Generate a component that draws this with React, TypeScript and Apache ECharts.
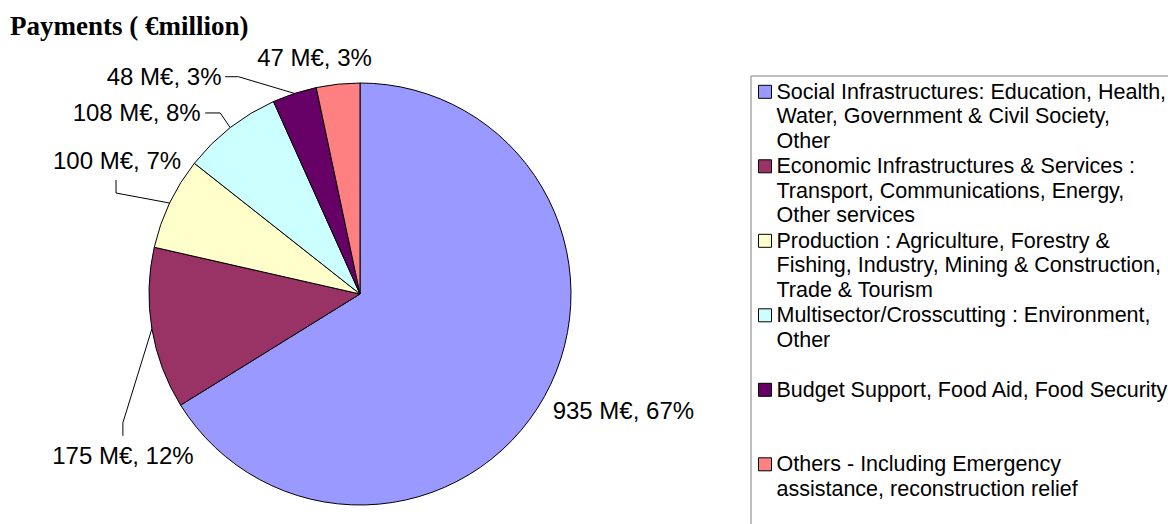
import React, { useEffect, useRef } from "react";
import * as echarts from "echarts";

// ---- Data ----
const categories = [
  "Social Infrastructures: Education, Health, Water, Government & Civil Society, Other",
  "Economic Infrastructures & Services : Transport, Communications, Energy, Other services",
  "Production : Agriculture, Forestry & Fishing, Industry, Mining & Construction, Trade & Tourism",
  "Multisector/Crosscutting : Environment, Other",
  "Budget Support, Food Aid, Food Security",
  "Others - Including Emergency assistance, reconstruction relief",
];
const legendLines = [
  ["Social Infrastructures: Education, Health,", "Water, Government & Civil Society,", "Other"],
  ["Economic Infrastructures & Services :", "Transport, Communications, Energy,", "Other services"],
  ["Production : Agriculture, Forestry &", "Fishing, Industry, Mining & Construction,", "Trade & Tourism"],
  ["Multisector/Crosscutting : Environment,", "Other"],
  ["Budget Support, Food Aid, Food Security"],
  ["Others - Including Emergency", "assistance, reconstruction relief"],
];
const valuesMEUR = [935, 175, 100, 108, 48, 47];
const percentLabels = [67, 12, 7, 8, 3, 3];
const sliceColors = ["#9999FF", "#993366", "#FFFFCC", "#CCFFFF", "#660066", "#FF8080"];
const titleText = "Payments ( €million)";

// ---- Label placement (offsets from the slice anchor that ECharts computes) ----
const labelPlacement: { dx: number; dy: number; align: string; bends: number[][] }[] = [
  { dx: 8.3, dy: 13.4, align: "left", bends: [] },
  { dx: -29, dy: 127, align: "center", bends: [[-29, 94], [-29, 107]] },
  { dx: -52.6, dy: -43, align: "center", bends: [[-53.6, -10], [-53.6, -23]] },
  { dx: -29.5, dy: -14.7, align: "right", bends: [[-10, -14.7], [-25, -14.7]] },
  { dx: -73, dy: -16.7, align: "right", bends: [[-56, -16.7], [-69.4, -16.7]] },
  { dx: -23.5, dy: -27, align: "center", bends: [] },
];

const LINE_H = 24.5;
const SLOT_H = LINE_H * 3;

export default function App() {
  const ref = useRef<HTMLDivElement>(null);
  useEffect(() => {
    if (!ref.current) return;
    const chart = echarts.init(ref.current, undefined, { renderer: "svg" });
    const option: any = {
      animation: false,
      backgroundColor: "#ffffff",
      title: {
        text: titleText,
        left: 10,
        top: 12,
        padding: 0,
        textStyle: {
          fontFamily: "Liberation Serif",
          fontWeight: "bold",
          fontSize: 27,
          color: "#000",
        },
      },
      legend: {
        orient: "vertical",
        left: 751,
        top: 76,
        height: 480,
        padding: [3, 20, 3, 7],
        borderColor: "#808080",
        borderWidth: 1,
        itemGap: 0,
        itemWidth: 13,
        itemHeight: SLOT_H,
        icon: `path://M0 0M0 5.8h13v13h-13zM13 ${SLOT_H}`,
        selectedMode: false,
        itemStyle: { borderColor: "#000", borderWidth: 1 },
        textStyle: {
          fontFamily: "Liberation Sans",
          fontSize: 21.5,
          lineHeight: LINE_H,
          color: "#000",
        },
        formatter: (name: string) => {
          const i = categories.indexOf(name);
          const lines = legendLines[i].slice();
          while (lines.length < 3) lines.push(" ");
          return lines.join("\n");
        },
        data: categories,
      },
      series: [
        {
          type: "pie",
          center: [360, 294],
          radius: 211,
          startAngle: 90,
          clockwise: true,
          avoidLabelOverlap: false,
          emphasis: { disabled: true },
          itemStyle: { borderColor: "#000", borderWidth: 1 },
          label: {
            show: true,
            position: "outside",
            overflow: "none",
            width: 300,
            fontFamily: "Liberation Sans",
            fontSize: 24,
            color: "#000",
            formatter: (p: any) => `${valuesMEUR[p.dataIndex]} M€, ${percentLabels[p.dataIndex]}%`,
          },
          labelLine: {
            show: true,
            length: 5,
            length2: 5,
            lineStyle: { color: "#000", width: 1 },
          },
          labelLayout: (p: any) => {
            const cfg = labelPlacement[p.dataIndex];
            const pts = p.labelLinePoints;
            if (!pts || !cfg) return {};
            const ax = pts[0][0];
            const ay = pts[0][1];
            const line = [[ax, ay], ...cfg.bends.map((b) => [ax + b[0], ay + b[1]])];
            if (line.length < 2) line.push([ax, ay]);
            return {
              x: ax + cfg.dx,
              y: ay + cfg.dy,
              align: cfg.align,
              verticalAlign: "middle",
              labelLinePoints: line,
            };
          },
          data: categories.map((name, i) => ({
            name,
            value: valuesMEUR[i],
            itemStyle: { color: sliceColors[i] },
          })),
        },
      ],
    };
    chart.setOption(option);
    return () => chart.dispose();
  }, []);
  return (
    <div
      ref={ref}
      style={{ position: "absolute", left: 0, top: 0, width: 1168, height: 524, background: "#fff" }}
    />
  );
}
